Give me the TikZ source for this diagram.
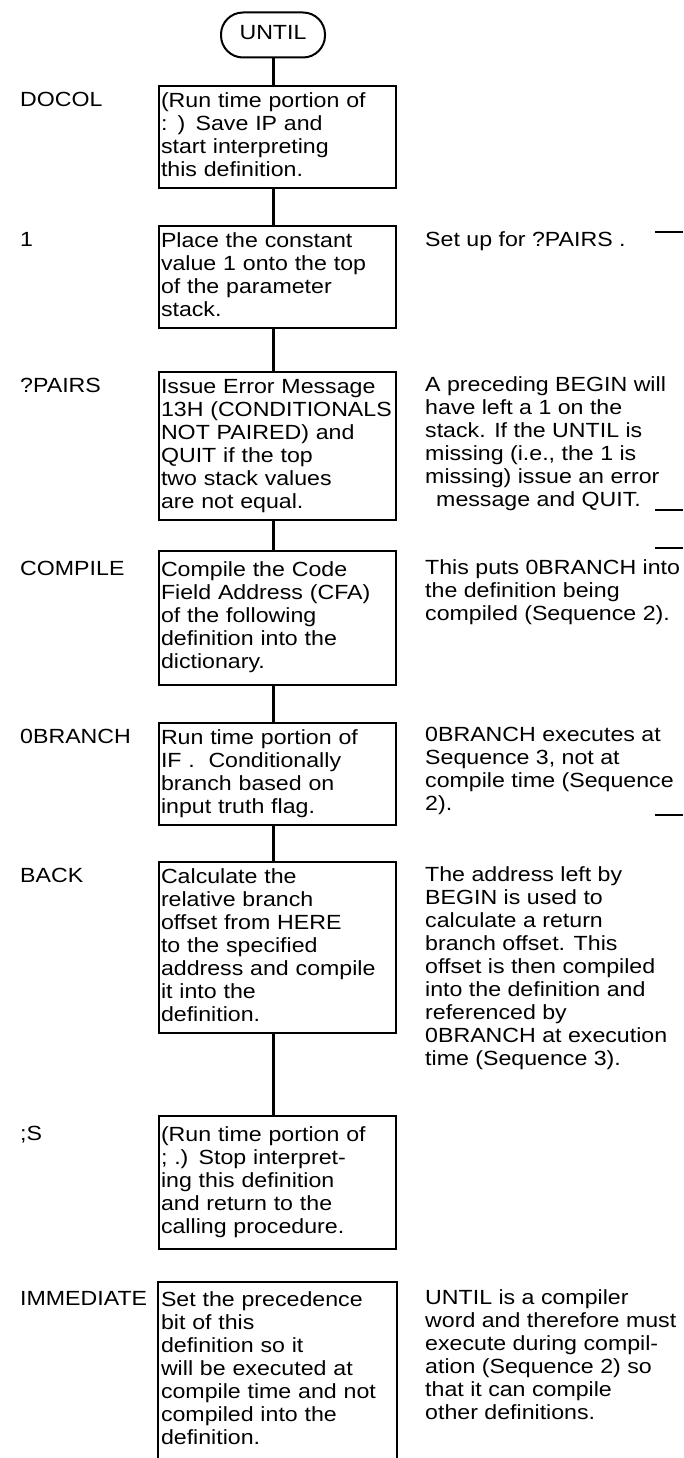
\documentclass[tikz,border=0pt]{standalone}
\usepackage{fontspec}
\setmainfont[FakeStretch=1.13]{Liberation Sans}
\begin{document}
\begin{tikzpicture}[
    x=1pt, y=-1pt,
    every node/.style={font=\fontsize{20.5}{23}\selectfont, inner sep=0pt,
        execute at begin node=\strut, execute at end node=\strut},
    box/.style={draw, line width=2pt, anchor=north, text width=233pt,
        align=left, inner xsep=2pt, inner ysep=5pt},
    lbl/.style={anchor=north west},
    note/.style={anchor=north west, align=left},
    link/.style={line width=3pt},
    marginline/.style={line width=2pt}
]
\useasboundingbox (0,0) rectangle (683,1458);

\node[draw, line width=2pt, rounded corners=22pt, minimum width=104pt,
    minimum height=45pt] (until) at (273,35) {UNTIL};

% word boxes
\node[box, minimum height=100pt] (docol) at (277.5,85)
    {(Run time portion of\\ : ) Save IP and\\ start interpreting\\ this definition.};
\node[box, minimum height=101pt] (one) at (277.5,225)
    {Place the constant\\ value 1 onto the top\\ of the parameter\\ stack.};
\node[box, minimum height=143pt] (pairs) at (277.5,371)
    {Issue Error Message\\ \mbox{13H (CONDITIONALS}\\ NOT PAIRED) and\\ QUIT if the top\\ two stack values\\ are not equal.};
\node[box, minimum height=134pt] (compile) at (277.5,550)
    {Compile the Code\\ Field Address (CFA)\\ of the following\\ definition into the\\ dictionary.};
\node[box, minimum height=100pt] (zbranch) at (277.5,722)
    {Run time portion of\\ IF .\ \ Conditionally\\ branch based on\\ input truth flag.};
\node[box, minimum height=171pt] (back) at (277.5,861)
    {Calculate the\\ relative branch\\ offset from HERE\\ to the specified\\ address and compile\\ it into the\\ definition.};
\node[box, minimum height=133pt] (semis) at (277.5,1115)
    {(Run time portion of\\ ; .) Stop interpret-\\ ing this definition\\ and return to the\\ calling procedure.};
\node[box, draw=none, minimum height=176pt] (immed) at (277.5,1282)
    {Set the precedence\\ bit of this\\ definition so it\\ will be executed at\\ compile time and not\\ compiled into the\\ definition.};
\draw[line width=2pt] (immed.south west) -- (immed.north west)
    -- (immed.north east) -- (immed.south east);

% names on the left
\node[lbl] (ldocol) at (20,90) {DOCOL};
\node[lbl] (lone) at (20,230) {1};
\node[lbl] (lpairs) at (20,376) {?PAIRS};
\node[lbl] (lcompile) at (20,559.5) {COMPILE};
\node[lbl] (lzbranch) at (20,727) {0BRANCH};
\node[lbl] (lback) at (20,866) {BACK};
\node[lbl] (lsemis) at (20,1124) {;S};
\node[lbl] (limmed) at (20,1289.5) {IMMEDIATE};

% remarks on the right
\node[note] (rone) at (425,230) {Set up for ?PAIRS .};
\node[note] (rpairs) at (425,376) {A preceding BEGIN will\\ have left a 1 on the\\ stack. If the UNTIL is\\ missing (i.e., the 1 is\\ missing) issue an error\\ \hspace*{11pt}message and QUIT.};
\node[note] (rcompile) at (425,559.5) {This puts 0BRANCH into\\ the definition being\\ compiled (Sequence 2).};
\node[note] (rzbranch) at (425,727) {0BRANCH executes at\\ Sequence 3, not at\\ compile time (Sequence\\ 2).};
\node[note] (rback) at (425,866) {The address left by\\ BEGIN is used to\\ calculate a return\\ branch offset. This\\ offset is then compiled\\ into the definition and\\ referenced by\\ 0BRANCH at execution\\ time (Sequence 3).};
\node[note] (rimmed) at (425,1289.5) {UNTIL is a compiler\\ word and therefore must\\ execute during compil-\\ ation (Sequence 2) so\\ that it can compile\\ other definitions.};

% flow lines
\draw[link] (until) -- (until |- docol.north);
\draw[link] (docol.south -| until) -- (one.north -| until);
\draw[link] (one.south -| until) -- (pairs.north -| until);
\draw[link] (pairs.south -| until) -- (compile.north -| until);
\draw[link] (compile.south -| until) -- (zbranch.north -| until);
\draw[link] (zbranch.south -| until) -- (back.north -| until);
\draw[link] (back.south -| until) -- (semis.north -| until);

% marks at the right edge
\foreach \y in {232,510,548,815}
    \draw[marginline] (655,\y) -- (683,\y);
\end{tikzpicture}
\end{document}
